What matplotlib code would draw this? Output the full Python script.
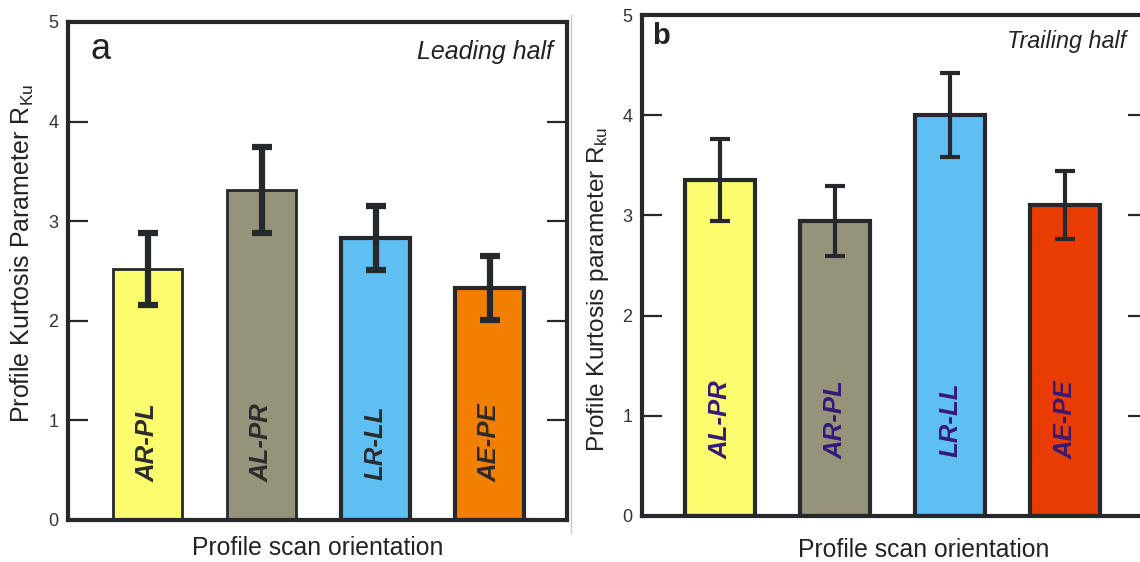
import matplotlib.pyplot as plt
from matplotlib.lines import Line2D

plt.rcParams["font.family"] = ["Liberation Sans", "DejaVu Sans"]
plt.rcParams["mathtext.default"] = "regular"

# leading half of the specimen
lead_labels = ["AR-PL", "AL-PR", "LR-LL", "AE-PE"]
lead_rku = [2.52, 3.31, 2.83, 2.33]
lead_err = [0.36, 0.43, 0.32, 0.32]
lead_colors = ["#fcfc6f", "#96937b", "#60bff2", "#f28000"]

# trailing half of the specimen
trail_labels = ["AL-PR", "AR-PL", "LR-LL", "AE-PE"]
trail_rku = [3.35, 2.94, 4.00, 3.10]
trail_err = [0.41, 0.35, 0.42, 0.34]
trail_colors = ["#fcfc6f", "#96937b", "#60bff2", "#e83c00"]

yticks = [0, 1, 2, 3, 4, 5]
edge = "#26292c"


def panel(ax, labels, values, errs, colors, edge_lw, err_lw, text_color, text_y, xlim):
    x = range(len(values))
    ax.bar(x, values, width=0.61, color=colors, edgecolor=edge, linewidth=edge_lw, zorder=2)
    ax.errorbar(x, values, yerr=errs, fmt="none", ecolor=edge, elinewidth=err_lw,
                capsize=7, capthick=err_lw, zorder=3)
    for i, lab in enumerate(labels):
        ax.text(i, text_y, lab, rotation=90, ha="center", va="center", fontsize=18.5,
                fontweight="bold", fontstyle="italic", color=text_color, zorder=4)
    ax.set_xlim(*xlim)
    ax.set_ylim(0, 5)
    ax.set_yticks(yticks)
    ax.set_xticks([])
    ax.tick_params(axis="y", direction="in", length=14.5, width=1.6, color=edge,
                   right=True, labelsize=13, labelcolor="#333333", pad=7)
    for s in ax.spines.values():
        s.set_linewidth(3)
        s.set_color(edge)


fig = plt.figure(figsize=(11.4, 5.62), dpi=100)

ax1 = fig.add_axes([68 / 1140, 42 / 562, 499 / 1140, 498 / 562])
panel(ax1, lead_labels, lead_rku, lead_err, lead_colors, [2, 2, 3, 3], 4.5,
      "#2b2b2b", 0.78, (-0.70, 3.68))
ax1.set_ylabel("Profile Kurtosis Parameter R$_{Ku}$", fontsize=18, color="#222222")
ax1.yaxis.set_label_coords(-0.064, 0.535)
ax1.set_xlabel("Profile scan orientation", fontsize=17.8, color="#222222")
ax1.xaxis.set_label_coords(0.501, -0.032)
ax1.text(0.066, 0.945, "a", transform=ax1.transAxes, fontsize=26, ha="center",
         va="center", color="#222222")
ax1.text(0.972, 0.94, "Leading half", transform=ax1.transAxes, fontsize=18,
         fontstyle="italic", ha="right", va="center", color="#222222")

ax2 = fig.add_axes([642 / 1140, 46 / 562, 506 / 1140, 501 / 562])
panel(ax2, trail_labels, trail_rku, trail_err, trail_colors, 3, 3,
      "#35197a", 0.96, (-0.68, 3.72))
ax2.set_ylabel("Profile Kurtosis parameter R$_{ku}$", fontsize=17.6, color="#222222")
ax2.yaxis.set_label_coords(-0.062, 0.453)
ax2.set_xlabel("Profile scan orientation", fontsize=17.8, color="#222222")
ax2.xaxis.set_label_coords(0.557, -0.044)
ax2.text(0.02, 0.958, "b", transform=ax2.transAxes, fontsize=21, fontweight="bold",
         ha="left", va="center", color="#222222")
ax2.text(0.957, 0.948, "Trailing half", transform=ax2.transAxes, fontsize=16.8,
         fontstyle="italic", ha="right", va="center", color="#222222")

# thin border between the two panels
fig.add_artist(Line2D([571 / 1140, 571 / 1140], [1 - 15 / 562, 1 - 533 / 562],
                      color="#c8c8c8", lw=1))

fig.savefig("out.png", dpi=100)
